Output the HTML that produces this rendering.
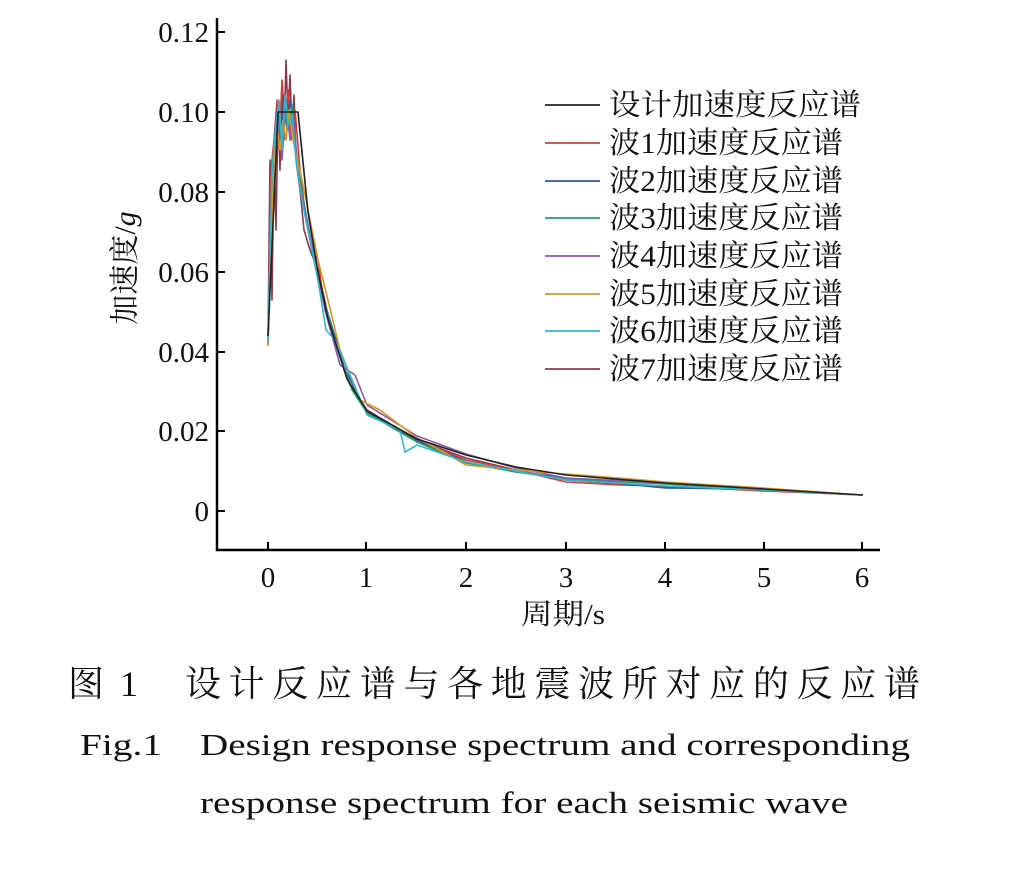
<!DOCTYPE html>
<html><head><meta charset="utf-8"><style>
html,body{margin:0;padding:0;background:#fff;}
svg text{font-family:"Liberation Serif","Noto Serif CJK SC",serif;fill:#111;}
</style></head><body>
<svg width="1016" height="864" viewBox="0 0 1016 864" xmlns="http://www.w3.org/2000/svg">
<g stroke="#000" stroke-width="2.5" fill="none">
<line x1="217" y1="18" x2="217" y2="551"/>
<line x1="216" y1="550" x2="880" y2="550"/>
</g>
<g stroke="#000" stroke-width="2">
<line x1="217" y1="32" x2="225" y2="32"/><line x1="217" y1="112" x2="225" y2="112"/>
<line x1="217" y1="192" x2="225" y2="192"/><line x1="217" y1="272" x2="225" y2="272"/>
<line x1="217" y1="352" x2="225" y2="352"/><line x1="217" y1="431" x2="225" y2="431"/>
<line x1="217" y1="511" x2="225" y2="511"/>
<line x1="268" y1="550" x2="268" y2="542"/><line x1="366" y1="550" x2="366" y2="542"/>
<line x1="466" y1="550" x2="466" y2="542"/><line x1="566" y1="550" x2="566" y2="542"/>
<line x1="665" y1="550" x2="665" y2="542"/><line x1="764" y1="550" x2="764" y2="542"/>
<line x1="862" y1="550" x2="862" y2="542"/>
</g>
<g font-size="29" text-anchor="end">
<text x="209" y="42">0.12</text><text x="209" y="122">0.10</text><text x="209" y="202">0.08</text>
<text x="209" y="282">0.06</text><text x="209" y="362">0.04</text><text x="209" y="441">0.02</text>
<text x="209" y="521">0</text>
</g>
<g font-size="29" text-anchor="middle">
<text x="268" y="587">0</text><text x="366" y="587">1</text><text x="466" y="587">2</text>
<text x="566" y="587">3</text><text x="665" y="587">4</text><text x="764" y="587">5</text><text x="862" y="587">6</text>
</g>
<text x="521" y="624" font-size="29" textLength="84" lengthAdjust="spacingAndGlyphs">周期/s</text>
<text transform="translate(135,268) rotate(-90)" font-size="30" text-anchor="middle">加速度/<tspan font-style="italic">g</tspan></text>
<g fill="none" stroke-width="1.6" stroke-linejoin="round">
<polyline stroke="#8a3a4a" points="268,340 270,160 272,300 274,150 276,230 278,110 280,170 282,95 284,140 286,60 288,120 290,75 292,130 294,95 296,160 300,190 304,230 310,250 318,270 328,315 340,355 350,385 367,410 417,440 466,458 516,470 566,480 665,487 764,490 862,495"/>
<polyline stroke="#d83a3a" points="268,345 271,170 274,140 277,100 279,150 282,80 285,120 288,90 291,140 295,110 300,170 306,220 312,250 318,260 325,310 340,350 355,390 367,412 417,441 466,460 516,470 566,482 620,485 665,486 764,491 862,495"/>
<polyline stroke="#3355aa" points="268,342 272,190 275,130 278,105 281,150 284,95 287,130 290,100 294,130 298,170 305,215 313,255 320,290 330,320 345,370 367,412 417,440 466,462 516,472 566,478 665,488 764,489 862,495"/>
<polyline stroke="#22a070" points="268,344 272,200 276,140 279,120 282,140 285,110 288,130 292,105 296,150 300,180 308,225 316,265 324,300 336,345 352,390 367,413 417,442 466,463 516,472 566,479 665,484 764,490 862,495"/>
<polyline stroke="#8a5ab0" points="268,343 271,210 275,150 278,115 282,160 286,100 290,140 294,120 298,175 305,210 315,260 325,310 340,365 355,375 367,405 417,436 466,454 516,468 566,478 665,483 764,489 862,495"/>
<polyline stroke="#d89a20" points="268,346 273,180 277,130 280,150 283,120 286,140 289,110 293,140 297,160 302,180 310,220 318,260 328,300 340,350 360,400 380,410 417,438 440,450 466,465 516,470 566,474 620,478 665,482 764,488 862,495"/>
<polyline stroke="#30b8c8" points="268,341 272,170 276,125 279,100 282,150 285,95 288,125 292,115 296,160 302,200 310,240 318,280 326,330 335,340 350,375 367,415 400,430 405,452 417,445 466,462 516,471 566,480 665,486 764,490 862,495"/>
<polyline stroke="#222" points="268,336 278,112 298,112 308,212 318,272 328,319 347,379 367,411 417,439 466,455 516,467 566,475 665,483 764,489 863,495"/>
</g>
<g stroke-width="1.8">
<line x1="545" y1="105" x2="600" y2="105" stroke="#222"/>
<line x1="545" y1="143" x2="600" y2="143" stroke="#d83a3a"/>
<line x1="545" y1="181" x2="600" y2="181" stroke="#3355aa"/>
<line x1="545" y1="218" x2="600" y2="218" stroke="#22a070"/>
<line x1="545" y1="256" x2="600" y2="256" stroke="#8a5ab0"/>
<line x1="545" y1="294" x2="600" y2="294" stroke="#d89a20"/>
<line x1="545" y1="331" x2="600" y2="331" stroke="#30b8c8"/>
<line x1="545" y1="369" x2="600" y2="369" stroke="#8a3a4a"/>
</g>
<g font-size="30">
<text x="609" y="115" textLength="252" lengthAdjust="spacingAndGlyphs">设计加速度反应谱</text>
<text x="609" y="153" textLength="234" lengthAdjust="spacingAndGlyphs">波1加速度反应谱</text>
<text x="609" y="191" textLength="234" lengthAdjust="spacingAndGlyphs">波2加速度反应谱</text>
<text x="609" y="228" textLength="234" lengthAdjust="spacingAndGlyphs">波3加速度反应谱</text>
<text x="609" y="266" textLength="234" lengthAdjust="spacingAndGlyphs">波4加速度反应谱</text>
<text x="609" y="304" textLength="234" lengthAdjust="spacingAndGlyphs">波5加速度反应谱</text>
<text x="609" y="341" textLength="234" lengthAdjust="spacingAndGlyphs">波6加速度反应谱</text>
<text x="609" y="379" textLength="234" lengthAdjust="spacingAndGlyphs">波7加速度反应谱</text>
</g>
<text x="68" y="696" font-size="36" textLength="70" lengthAdjust="spacing">图 1</text>
<text x="185" y="696" font-size="36" textLength="735" lengthAdjust="spacing">设计反应谱与各地震波所对应的反应谱</text>
<text x="80" y="755" font-size="31" textLength="82" lengthAdjust="spacingAndGlyphs">Fig.1</text>
<text x="200" y="755" font-size="31" textLength="710" lengthAdjust="spacingAndGlyphs">Design response spectrum and corresponding</text>
<text x="200" y="813" font-size="31" textLength="648" lengthAdjust="spacingAndGlyphs">response spectrum for each seismic wave</text>
</svg>
</body></html>
